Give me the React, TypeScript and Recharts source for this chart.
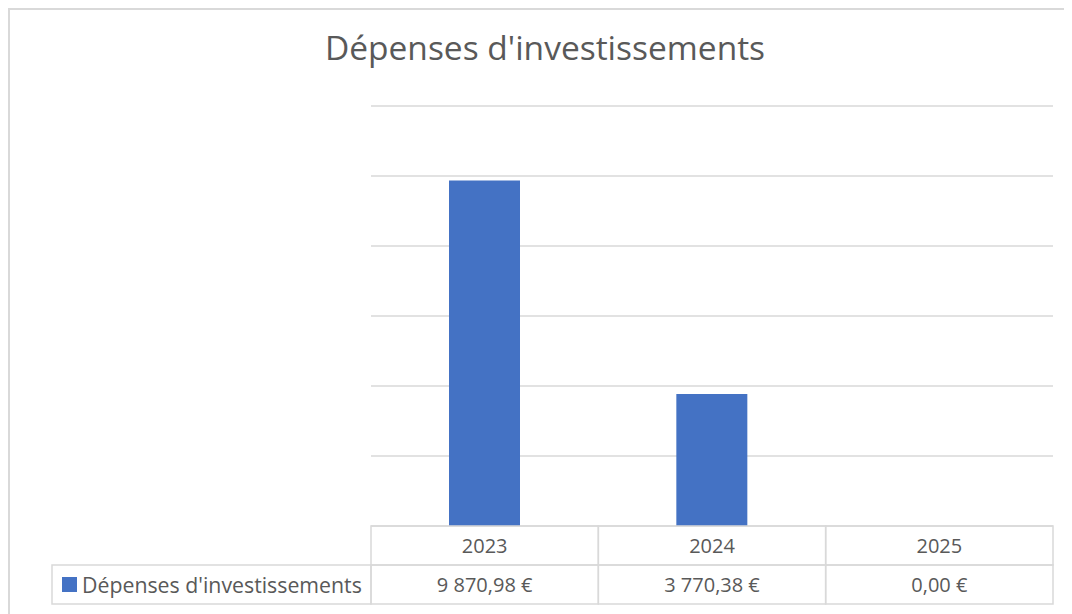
import { BarChart, Bar, XAxis, YAxis, CartesianGrid } from "recharts";

const years = ["2023", "2024", "2025"];
const depenses = [9870.98, 3770.38, 0];
const yTicks = [0, 2000, 4000, 6000, 8000, 10000, 12000];
const seriesName = "Dépenses d'investissements";

const data = years.map((year, i) => ({ year, value: depenses[i] }));

const W = 1072;
const H = 614;
const PLOT_LEFT = 371;
const PLOT_RIGHT = 1053;
const TABLE_TOP = 526;
const ROW_H = 39;
const COL_W = (PLOT_RIGHT - PLOT_LEFT) / years.length;
const LINE = "#d9d9d9";
const TEXT = "#595959";
const FONT = "'Open Sans', 'Noto Sans', sans-serif";

// 9870.98 -> "9 870,98 €"
function fmt(v: number) {
  const [int, dec] = v.toFixed(2).split(".");
  return int.replace(/\B(?=(\d{3})+(?!\d))/g, " ") + "," + dec + " €";
}

function TableTick(props: any) {
  const { x, index, payload } = props;
  const left = x - COL_W / 2;
  return (
    <g>
      {index === 0 && (
        <g>
          <rect x={52} y={TABLE_TOP + ROW_H} width={PLOT_LEFT - 52} height={ROW_H} fill="none" stroke={LINE} strokeWidth={1.5} />
          <rect x={62} y={TABLE_TOP + ROW_H + 12} width={15} height={15} fill="#4472c4" />
          <text x={82} y={TABLE_TOP + ROW_H + 19} dominantBaseline="central" fill={TEXT} fontSize={21.3} fontFamily={FONT}>
            {seriesName}
          </text>
        </g>
      )}
      <rect x={left} y={TABLE_TOP} width={COL_W} height={ROW_H} fill="none" stroke={LINE} strokeWidth={1.5} />
      <rect x={left} y={TABLE_TOP + ROW_H} width={COL_W} height={ROW_H} fill="none" stroke={LINE} strokeWidth={1.5} />
      <text x={x} y={TABLE_TOP + 19} textAnchor="middle" dominantBaseline="central" fill={TEXT} fontSize={20} fontFamily={FONT}>
        {payload.value}
      </text>
      <text x={x} y={TABLE_TOP + ROW_H + 19} textAnchor="middle" dominantBaseline="central" fill={TEXT} fontSize={20} fontFamily={FONT}>
        {fmt(depenses[index])}
      </text>
    </g>
  );
}

export default function App() {
  return (
    <div style={{ position: "relative", width: W, height: H, marginLeft: -8, marginTop: -8, background: "#fff", overflow: "hidden" }}>
      <div style={{ position: "absolute", left: 0, top: 0 }}>
        <BarChart
          width={W}
          height={H}
          data={data}
          margin={{ top: 106, right: W - PLOT_RIGHT, bottom: 10, left: PLOT_LEFT }}
        >
          <CartesianGrid vertical={false} stroke={LINE} strokeWidth={1.5} />
          <XAxis dataKey="year" height={78} axisLine={false} tickLine={false} interval={0} tick={<TableTick />} />
          <YAxis hide domain={[0, 12000]} ticks={yTicks} />
          <Bar dataKey="value" fill="#4472c4" barSize={71} isAnimationActive={false} />
        </BarChart>
      </div>
      {/* chart frame (only top and left edges are in view) */}
      <div
        style={{
          position: "absolute",
          left: 8,
          top: 8,
          width: W,
          height: H,
          borderTop: `2px solid ${LINE}`,
          borderLeft: `2px solid ${LINE}`,
          pointerEvents: "none",
        }}
      />
      <div
        style={{
          position: "absolute",
          left: 545,
          top: 24,
          transform: "translateX(-50%)",
          whiteSpace: "nowrap",
          fontFamily: FONT,
          fontSize: 33.5,
          color: TEXT,
        }}
      >
        {seriesName}
      </div>
    </div>
  );
}
